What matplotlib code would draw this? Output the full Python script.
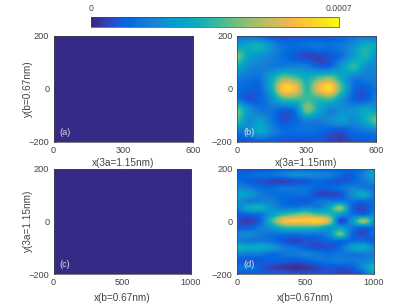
import numpy as np
import matplotlib
matplotlib.use('Agg')
import matplotlib.pyplot as plt
from matplotlib.colors import LinearSegmentedColormap

plt.rcParams['font.family'] = ['Liberation Sans', 'DejaVu Sans']

W, H = 415, 308
GRAY = '#444444'

# parula colours, every third of the 64 levels
parula = [
    (0.2081, 0.1663, 0.5292), (0.2081, 0.2386, 0.6771), (0.1253, 0.3242, 0.8303),
    (0.0060, 0.4086, 0.8828), (0.0498, 0.4586, 0.8641), (0.0779, 0.5040, 0.8384),
    (0.0641, 0.5570, 0.8240), (0.0265, 0.6137, 0.8135), (0.0228, 0.6535, 0.7768),
    (0.0590, 0.6838, 0.7254), (0.1453, 0.7098, 0.6646), (0.2586, 0.7317, 0.5954),
    (0.3953, 0.7459, 0.5244), (0.5300, 0.7491, 0.4661), (0.6473, 0.7456, 0.4188),
    (0.7525, 0.7384, 0.3768), (0.8507, 0.7299, 0.3360), (0.9450, 0.7261, 0.2886),
    (0.9990, 0.7653, 0.2164), (0.9789, 0.8271, 0.1633), (0.9589, 0.8949, 0.1132),
    (0.9763, 0.9831, 0.0538),
]
cmap = LinearSegmentedColormap.from_list('parula', parula, N=64)

# values in units of 1e-4, rows go from y=+200 down to y=-200
field_b = np.array([
    [1.2, 1.1, 0.8, 0.6, 0.5, 0.6, 0.7, 0.5, 0.7, 0.9, 1.1, 1.3, 1.2],
    [2.4, 2.8, 3.0, 2.0, 1.3, 1.2, 1.3, 1.4, 1.3, 1.5, 2.1, 3.0, 2.7],
    [4.2, 2.6, 2.1, 1.7, 1.2, 0.8, 0.5, 0.5, 0.8, 1.3, 2.4, 3.2, 2.0],
    [2.8, 1.9, 1.7, 1.6, 1.7, 1.8, 1.7, 1.1, 1.2, 2.4, 3.4, 2.1, 1.8],
    [1.6, 1.4, 1.4, 2.8, 4.2, 3.8, 3.0, 3.8, 4.2, 2.8, 1.6, 1.6, 1.7],
    [1.3, 1.0, 1.1, 3.0, 6.2, 5.8, 3.4, 5.6, 6.4, 3.6, 1.2, 0.9, 1.4],
    [1.4, 0.8, 1.0, 2.0, 3.6, 3.6, 3.6, 3.4, 3.6, 2.2, 1.0, 0.9, 1.6],
    [4.0, 2.2, 1.4, 1.4, 1.0, 1.4, 4.2, 2.8, 1.7, 2.0, 2.1, 2.7, 2.4],
    [3.6, 2.0, 2.4, 1.4, 0.7, 1.1, 1.7, 1.6, 2.0, 2.4, 1.9, 2.8, 4.0],
    [1.4, 1.8, 2.7, 1.8, 1.2, 1.2, 1.3, 1.1, 0.8, 0.7, 1.2, 1.4, 1.6],
    [0.8, 0.7, 0.8, 0.8, 0.7, 0.6, 0.6, 0.7, 0.5, 0.4, 0.7, 0.8, 1.0],
])
field_d = np.array([
    [0.8, 0.5, 0.6, 0.8, 0.9, 1.0, 1.0, 0.9, 0.9, 1.0, 1.0, 1.2, 2.6],
    [1.0, 1.1, 1.3, 1.3, 1.6, 2.0, 1.9, 1.8, 1.6, 1.1, 0.9, 1.7, 2.8],
    [1.3, 0.9, 0.7, 0.5, 0.4, 0.6, 0.8, 1.1, 0.9, 0.7, 1.0, 1.5, 2.0],
    [1.9, 1.6, 1.2, 1.1, 1.4, 1.4, 1.3, 1.0, 1.0, 1.3, 1.7, 1.5, 1.3],
    [2.8, 2.4, 1.6, 1.3, 1.2, 1.2, 1.2, 0.6, 0.5, 0.7, 2.0, 2.8, 1.5],
    [2.1, 1.6, 1.7, 1.6, 1.1, 0.9, 0.8, 1.3, 1.5, 1.5, 1.3, 1.1, 1.3],
    [1.6, 2.8, 3.0, 2.1, 1.5, 1.5, 1.9, 1.7, 2.6, 4.4, 1.1, 0.6, 1.3],
    [0.9, 1.1, 1.3, 2.4, 3.4, 4.0, 4.4, 3.8, 3.4, 2.4, 1.3, 1.1, 1.7],
    [0.7, 0.4, 1.0, 3.4, 5.6, 6.0, 6.1, 6.3, 5.0, 0.6, 2.2, 4.6, 2.2],
    [0.9, 0.9, 1.5, 2.2, 3.2, 3.4, 3.4, 3.2, 2.4, 2.4, 1.5, 1.1, 1.3],
    [1.9, 1.9, 1.6, 1.3, 1.3, 1.3, 1.4, 1.4, 1.9, 4.0, 1.1, 0.6, 1.3],
    [1.7, 1.5, 1.5, 1.3, 0.8, 0.5, 0.7, 0.8, 1.1, 1.1, 1.2, 1.2, 0.8],
    [3.2, 2.8, 2.8, 2.4, 1.6, 1.3, 0.9, 0.6, 0.7, 1.2, 2.4, 2.8, 1.7],
    [1.7, 1.6, 1.5, 1.1, 1.4, 1.5, 1.7, 1.5, 1.3, 1.4, 1.4, 1.5, 1.7],
    [0.8, 0.7, 0.8, 1.0, 0.9, 0.8, 1.0, 1.3, 1.4, 1.6, 1.5, 1.7, 2.0],
    [1.3, 1.4, 0.9, 0.5, 0.3, 0.2, 0.3, 0.5, 0.8, 0.7, 0.9, 2.0, 3.4],
    [0.9, 0.8, 0.9, 0.9, 0.9, 0.7, 0.6, 0.7, 0.7, 0.5, 0.5, 1.0, 2.4],
])
field_a = np.zeros((2, 2))
field_c = np.zeros((2, 2))

panel_names = ['(a)', '(b)', '(c)', '(d)']
x_max = [600, 600, 1000, 1000]
x_ticks = [[0, 300, 600], [0, 300, 600], [0, 500, 1000], [0, 500, 1000]]
x_labels = ['x(3a=1.15nm)', 'x(3a=1.15nm)', 'x(b=0.67nm)', 'x(b=0.67nm)']
y_labels = ['y(b=0.67nm)', None, 'y(3a=1.15nm)', None]
x_label_pads = [2.0, 2.0, 4.0, 4.0]
y_ticks = [-200, 0, 200]
vmax = 0.0007


def px_axes(left, right, top, bottom):
    return fig.add_axes([left / W, 1 - bottom / H, (right - left) / W, (bottom - top) / H])


fig = plt.figure(figsize=(W / 100, H / 100), dpi=100)
boxes = [(53.5, 193, 35.5, 141.7), (236.7, 375.7, 35.5, 141.7),
         (53.5, 191, 168.5, 274), (236.7, 374, 168.5, 274)]

for i, field in enumerate([field_a, field_b, field_c, field_d]):
    ax = px_axes(*boxes[i])
    rows, cols = field.shape
    dx = x_max[i] / max(cols - 1, 1) / 2
    dy = 400 / max(rows - 1, 1) / 2
    im = ax.imshow(field * 1e-4, cmap=cmap, vmin=0, vmax=vmax, aspect='auto',
                   interpolation='catrom',
                   extent=[-dx, x_max[i] + dx, -200 - dy, 200 + dy])
    ax.set_xlim(0, x_max[i])
    ax.set_ylim(-200, 200)
    ax.set_xticks(x_ticks[i])
    ax.set_yticks(y_ticks)
    ax.tick_params(direction='in', length=1.3, width=0.4, top=True, right=True,
                   labelsize=6.6, colors=GRAY, pad=3)
    for s in ax.spines.values():
        s.set_linewidth(0.5)
        s.set_color(GRAY)
    ax.set_xlabel(x_labels[i], fontsize=7.2, color=GRAY, labelpad=x_label_pads[i])
    if y_labels[i]:
        ax.set_ylabel(y_labels[i], fontsize=7.2, color=GRAY, labelpad=-3)
    ax.text(0.045, 0.09, panel_names[i], transform=ax.transAxes, fontsize=6.6,
            color='#dddddd', va='center')

cax = px_axes(91, 338.7, 16.5, 27)
cb = fig.colorbar(im, cax=cax, orientation='horizontal', ticks=[0, vmax])
cb.ax.set_xticklabels(['0', '0.0007'])
cb.ax.xaxis.set_ticks_position('top')
cb.ax.tick_params(length=0, labelsize=6.2, colors=GRAY, pad=2.5)
cb.outline.set_linewidth(0.5)
cb.outline.set_edgecolor(GRAY)

fig.savefig('out.png', dpi=100)
